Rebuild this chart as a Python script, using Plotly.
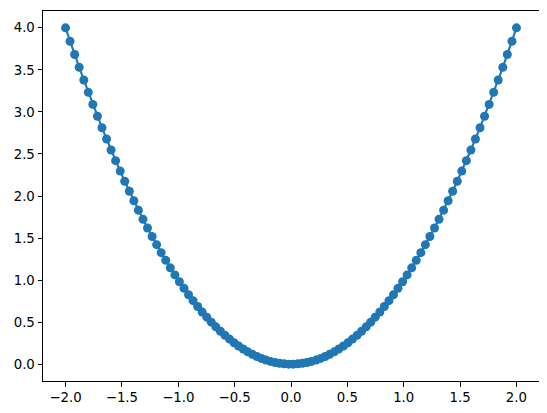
import plotly.graph_objects as go

x_vals = [-2.000, -1.960, -1.919, -1.879, -1.838, -1.798, -1.758, -1.717, -1.677, -1.636,
          -1.596, -1.556, -1.515, -1.475, -1.434, -1.394, -1.354, -1.313, -1.273, -1.232,
          -1.192, -1.152, -1.111, -1.071, -1.030, -0.990, -0.949, -0.909, -0.869, -0.828,
          -0.788, -0.747, -0.707, -0.667, -0.626, -0.586, -0.545, -0.505, -0.465, -0.424,
          -0.384, -0.343, -0.303, -0.263, -0.222, -0.182, -0.141, -0.101, -0.061, -0.020,
          0.020, 0.061, 0.101, 0.141, 0.182, 0.222, 0.263, 0.303, 0.343, 0.384,
          0.424, 0.465, 0.505, 0.545, 0.586, 0.626, 0.667, 0.707, 0.747, 0.788,
          0.828, 0.869, 0.909, 0.949, 0.990, 1.030, 1.071, 1.111, 1.152, 1.192,
          1.232, 1.273, 1.313, 1.354, 1.394, 1.434, 1.475, 1.515, 1.556, 1.596,
          1.636, 1.677, 1.717, 1.758, 1.798, 1.838, 1.879, 1.919, 1.960, 2.000]

y_vals = [4.000, 3.840, 3.683, 3.530, 3.380, 3.233, 3.089, 2.949, 2.812, 2.678,
          2.547, 2.420, 2.296, 2.175, 2.057, 1.943, 1.832, 1.724, 1.620, 1.519,
          1.421, 1.326, 1.235, 1.146, 1.062, 0.980, 0.902, 0.826, 0.755, 0.686,
          0.621, 0.559, 0.500, 0.444, 0.392, 0.343, 0.298, 0.255, 0.216, 0.180,
          0.147, 0.118, 0.092, 0.069, 0.049, 0.033, 0.020, 0.010, 0.004, 0.000,
          0.000, 0.004, 0.010, 0.020, 0.033, 0.049, 0.069, 0.092, 0.118, 0.147,
          0.180, 0.216, 0.255, 0.298, 0.343, 0.392, 0.444, 0.500, 0.559, 0.621,
          0.686, 0.755, 0.826, 0.902, 0.980, 1.062, 1.146, 1.235, 1.326, 1.421,
          1.519, 1.620, 1.724, 1.832, 1.943, 2.057, 2.175, 2.296, 2.420, 2.547,
          2.678, 2.812, 2.949, 3.089, 3.233, 3.380, 3.530, 3.683, 3.840, 4.000]

x_tick_vals = [-2.0, -1.5, -1.0, -0.5, 0.0, 0.5, 1.0, 1.5, 2.0]
x_tick_text = ["\u22122.0", "\u22121.5", "\u22121.0", "\u22120.5", "0.0", "0.5", "1.0", "1.5", "2.0"]
y_tick_vals = [0.0, 0.5, 1.0, 1.5, 2.0, 2.5, 3.0, 3.5, 4.0]
y_tick_text = ["0.0", "0.5", "1.0", "1.5", "2.0", "2.5", "3.0", "3.5", "4.0"]

fig = go.Figure()
fig.add_trace(go.Scatter(
    x=x_vals, y=y_vals, mode="lines+markers",
    line=dict(color="#1f77b4", width=2.1),
    marker=dict(color="#1f77b4", size=9),
    showlegend=False,
))

axis_common = dict(
    showgrid=False, zeroline=False, showline=True, linecolor="black", linewidth=1,
    mirror=True, ticks="outside", ticklen=4.5, tickwidth=1, tickcolor="black",
    automargin=False,
    tickfont=dict(family="DejaVu Sans", size=13.3, color="black"),
)
fig.update_xaxes(range=[-2.2, 2.2], tickvals=x_tick_vals, ticktext=x_tick_text, **axis_common)
fig.update_yaxes(range=[-0.2, 4.2], tickvals=y_tick_vals, ticktext=y_tick_text, **axis_common)

# page body has an 8px default margin, so the figure is 8px smaller on each axis
fig.update_layout(
    width=539, height=405, autosize=False,
    margin=dict(l=34.5, r=8, t=2.5, b=32, pad=0),
    plot_bgcolor="white", paper_bgcolor="white",
)

fig.write_html("out.html")
